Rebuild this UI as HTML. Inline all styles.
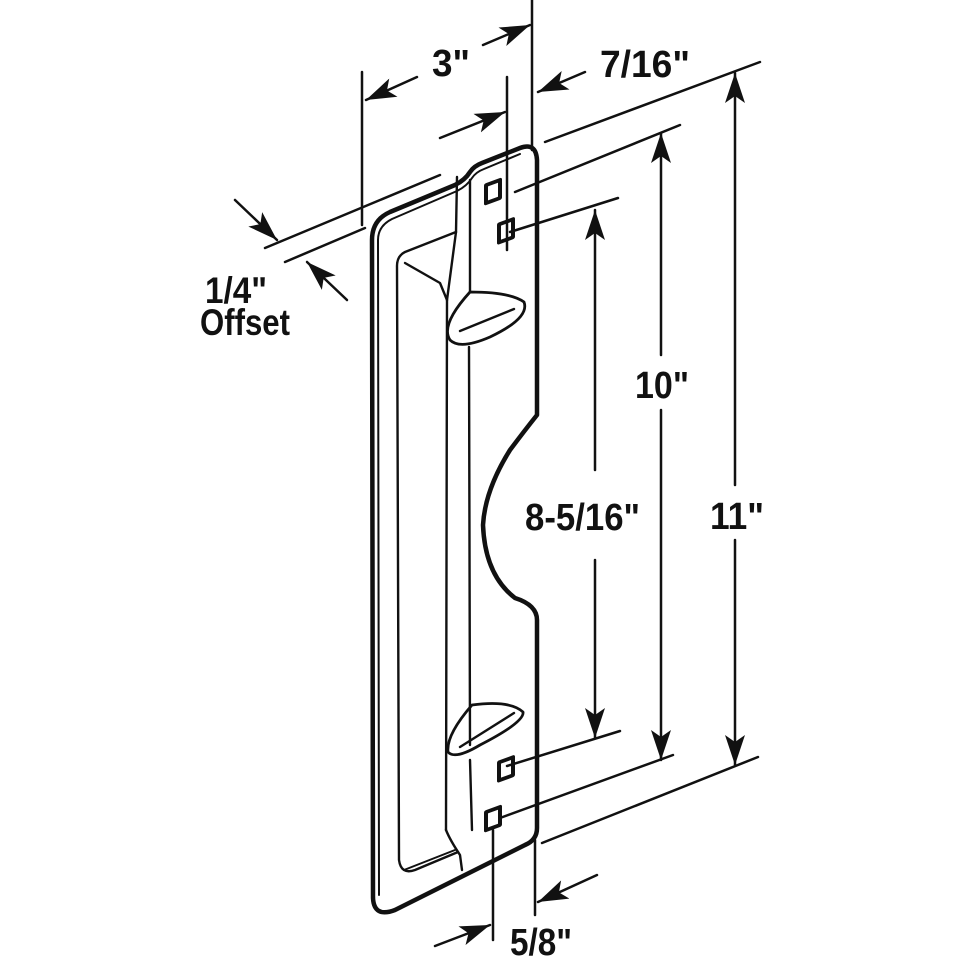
<!DOCTYPE html>
<html><head><meta charset="utf-8"><style>
html,body{margin:0;padding:0;background:#fff;}
svg{display:block}
text{font-family:"Liberation Sans",sans-serif;font-weight:bold;fill:#111;}
</style></head><body>
<svg width="960" height="960" viewBox="0 0 960 960" xmlns="http://www.w3.org/2000/svg">
<defs>
<marker id="a" viewBox="0 0 30 20" refX="30" refY="10" markerWidth="30" markerHeight="20" markerUnits="userSpaceOnUse" orient="auto">
<path d="M0,0 L30,10 L0,20 L7,10 Z" fill="#111"/>
</marker>
</defs>
<g fill="none" stroke="#111" stroke-linecap="round" stroke-linejoin="round">
<path d="M372,240 Q372,220 390,212 L455,185 Q465,180 470,172 Q474,166 482,163 L520,148 Q536,142 537,160 L537,415 Q525,430 510,450 Q485,490 483,525 Q485,575 515,598 Q537,605 537,620 L537,828 Q537,840 525,845 L395,910 Q374,918 373,898 Z" stroke-width="4.5"/>
<path d="M378,240 Q378,226 392,219 L457,191 Q467,186 472,178 Q476,172 484,169 L520,154" stroke-width="2"/>
<path d="M378,240 L379,895" stroke-width="2"/>
<path d="M456,232 L405,252 Q397,256 397,266 L399,860 Q401,875 415,870 L458,852" stroke-width="2.4"/>
<path d="M405,263 L440,283 L447,300" stroke-width="2.4"/>
<path d="M457,177 L456,232 L447,300 L446,830" stroke-width="2.4"/>
<path d="M470,180 L470,292" stroke-width="2.4"/>
<path d="M469,347 L470,745" stroke-width="2.4"/>
<path d="M470,292 Q510,292 524,302 Q530,318 490,337 Q460,350 450,340 Q440,325 470,292 Z" stroke-width="2.8"/>
<path d="M460,331 L514,309" stroke-width="2.4"/>
<path d="M472,705 Q510,700 523,712 Q525,722 480,745 Q455,760 448,752 Q446,735 472,705 Z" stroke-width="2.8"/>
<path d="M460,747 L514,713" stroke-width="2.4"/>
<path d="M446,830 Q450,840 460,855 L462,870" stroke-width="2.4"/>
<path d="M404,870 L455,850" stroke-width="2"/>
<path d="M470,760 L472,830" stroke-width="2.4"/>
<g stroke-width="4">
<rect x="486" y="185" width="14" height="18" transform="skewY(-20) translate(0,177)"/>
<rect x="499" y="224" width="14" height="18" transform="skewY(-20) translate(0,182)"/>
<rect x="499" y="762" width="14" height="18" transform="skewY(-20) translate(0,182)"/>
<rect x="486" y="812" width="14" height="18" transform="skewY(-20) translate(0,177)"/>
</g>
<g stroke-width="2.5">
<path d="M532,0 L532,150"/>
<path d="M535,840 L535,915"/>
<path d="M507,77 L507,250"/>
<path d="M493,830 L493,940"/>
<path d="M362,72 L362,225"/>
<path d="M265,248 L440,175"/>
<path d="M285,262 L365,228"/>
<path d="M545,142 L760,62"/>
<path d="M515,192 L680,125"/>
<path d="M510,232 L618,198"/>
<path d="M507,766 L620,731"/>
<path d="M500,818 L673,755"/>
<path d="M542,843 L758,757"/>
<path d="M417,77 L366,100" marker-end="url(#a)"/>
<path d="M483,45 L530,25" marker-end="url(#a)"/>
<path d="M440,138 L505,112" marker-end="url(#a)"/>
<path d="M585,72 L538,92" marker-end="url(#a)"/>
<path d="M235,200 L277,240" marker-end="url(#a)"/>
<path d="M347,300 L307,262" marker-end="url(#a)"/>
<path d="M435,946 L490,925" marker-end="url(#a)"/>
<path d="M597,875 L538,902" marker-end="url(#a)"/>
<path d="M595,470 L595,210" marker-end="url(#a)"/>
<path d="M595,560 L595,738" marker-end="url(#a)"/>
<path d="M661,355 L661,133" marker-end="url(#a)"/>
<path d="M661,410 L661,760" marker-end="url(#a)"/>
<path d="M735,485 L735,73" marker-end="url(#a)"/>
<path d="M735,540 L735,765" marker-end="url(#a)"/>
</g>
</g>
<text x="432" y="76" font-size="38" textLength="38" lengthAdjust="spacingAndGlyphs">3"</text>
<text x="600" y="77" font-size="38" textLength="90" lengthAdjust="spacingAndGlyphs">7/16"</text>
<text x="205" y="303" font-size="37" textLength="62" lengthAdjust="spacingAndGlyphs">1/4"</text>
<text x="200" y="335" font-size="37" textLength="90" lengthAdjust="spacingAndGlyphs">Offset</text>
<text x="635" y="398" font-size="38" textLength="54" lengthAdjust="spacingAndGlyphs">10"</text>
<text x="525" y="530" font-size="38" textLength="115" lengthAdjust="spacingAndGlyphs">8-5/16"</text>
<text x="710" y="529" font-size="38" textLength="54" lengthAdjust="spacingAndGlyphs">11"</text>
<text x="510" y="955" font-size="38" textLength="62" lengthAdjust="spacingAndGlyphs">5/8"</text>
</svg>
</body></html>
